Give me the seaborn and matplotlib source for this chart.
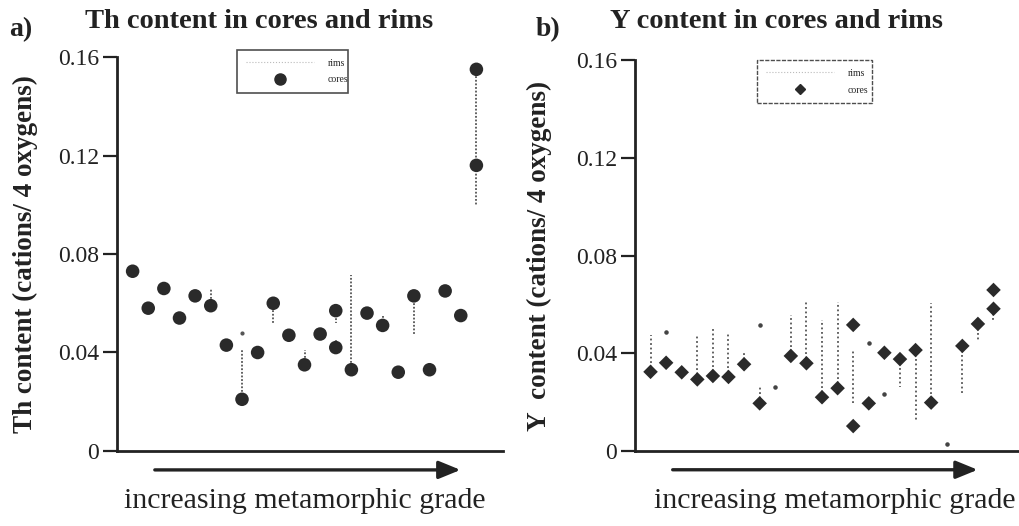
import numpy as np
import pandas as pd
import matplotlib
matplotlib.use("Agg")
import matplotlib.pyplot as plt
from matplotlib.lines import Line2D
import seaborn as sns

# ---------------- data ----------------
# Panel a: Th content (cations / 4 oxygens); x = sample order (increasing grade)
th_core_x = [1, 2, 3, 4, 5, 6, 7, 8, 9, 10, 11, 12, 13, 14, 14, 15, 16, 17, 18, 19, 20, 21, 22, 23, 23]
th_core_y = [0.073, 0.058, 0.066, 0.054, 0.063, 0.059, 0.043, 0.021, 0.040, 0.060, 0.047, 0.035,
             0.0475, 0.057, 0.042, 0.033, 0.056, 0.051, 0.032, 0.063, 0.033, 0.065, 0.055, 0.155, 0.116]
# rim segments: sample, core value, rim value
th_rim_x = [6, 8, 10, 12, 14, 14, 15, 17, 19, 23]
th_rim_from = [0.059, 0.021, 0.060, 0.035, 0.057, 0.042, 0.033, 0.051, 0.063, 0.155]
th_rim_to = [0.066, 0.041, 0.052, 0.041, 0.052, 0.045, 0.0715, 0.055, 0.047, 0.100]
th_dot_x = [8]
th_dot_y = [0.048]

# Panel b: Y content (cations / 4 oxygens)
y_core_x = [1, 2, 3, 4, 5, 6, 7, 8, 10, 11, 12, 13, 14, 14, 15, 16, 17, 18, 19, 21, 22, 23, 23]
y_core_y = [0.0324, 0.0361, 0.0322, 0.0293, 0.0307, 0.0303, 0.0355, 0.0195, 0.0389, 0.0359,
            0.022, 0.0257, 0.0516, 0.0102, 0.0195, 0.0402, 0.0376, 0.0413, 0.0198, 0.043,
            0.052, 0.0659, 0.0582]
y_rim_x = [1, 4, 5, 6, 7, 8, 10, 11, 12, 13, 14, 17, 18, 19, 21, 22, 23]
y_rim_from = [0.0324, 0.0293, 0.0307, 0.0303, 0.0355, 0.0195, 0.0389, 0.0359, 0.022, 0.0257,
              0.0196, 0.0376, 0.0413, 0.0198, 0.043, 0.052, 0.0582]
y_rim_to = [0.0475, 0.0475, 0.0503, 0.0483, 0.0405, 0.027, 0.0556, 0.0611, 0.0536, 0.0611,
            0.041, 0.0263, 0.0127, 0.0604, 0.023, 0.0447, 0.053]
y_dot_x = [2, 8, 9, 15, 16, 20]
y_dot_y = [0.0488, 0.0516, 0.0263, 0.0443, 0.0233, 0.003]

y_ticks = [0, 0.04, 0.08, 0.12, 0.16]
y_tick_labels = ["0", "0.04", "0.08", "0.12", "0.16"]

# ---------------- style ----------------
sns.set_theme(style="white")
plt.rcParams["font.family"] = ["Liberation Serif", "DejaVu Serif"]

INK = "#222222"
fig = plt.figure(figsize=(10.2, 5.26), dpi=100)
fig.patch.set_facecolor("white")

ax_a = fig.add_axes([0.1147, 0.1426, 0.3784, 0.749])
ax_b = fig.add_axes([0.6225, 0.1426, 0.3775, 0.7433])


def style_axis(ax, ylabel, label_x):
    ax.set_facecolor("white")
    ax.set_xlim(0, 24.7)
    ax.set_ylim(0, 0.16)
    for s in ["top", "right"]:
        ax.spines[s].set_visible(False)
    for s in ["left", "bottom"]:
        ax.spines[s].set_linewidth(2.0)
        ax.spines[s].set_color(INK)
    ax.set_xticks([])
    ax.set_yticks(y_ticks)
    ax.set_yticklabels(y_tick_labels)
    ax.tick_params(axis="y", direction="out", length=10, width=1.6, color=INK,
                   labelsize=17, labelcolor=INK, pad=3, left=True)
    ax.set_xlabel("")
    ax.set_ylabel(ylabel, fontsize=19.5, fontweight="bold", color=INK)
    ax.yaxis.set_label_coords(label_x, 0.5)
    ax.annotate("", xy=(0.89, -0.048), xytext=(0.098, -0.048), xycoords="axes fraction",
                arrowprops=dict(arrowstyle="-|>,head_length=1.1,head_width=0.45",
                                lw=2.4, color=INK, shrinkA=0, shrinkB=0),
                annotation_clip=False)


# panel a
style_axis(ax_a, "Th content (cations/ 4 oxygens)", -0.205)
ax_a.vlines(th_rim_x, th_rim_from, th_rim_to, colors="#555555", linestyles=(0, (1, 1)), lw=1.3)
ax_a.scatter(th_dot_x, th_dot_y, s=4, color="#555555", zorder=3)
sns.scatterplot(x=th_core_x, y=th_core_y, ax=ax_a, marker="o", s=95, color="#2a2a2a",
                edgecolor="none", linewidth=0, zorder=4, legend=False, clip_on=False)
ax_a.text(0.487, -0.127, "increasing metamorphic grade", transform=ax_a.transAxes,
          ha="center", va="center", fontsize=21.5, color=INK)
h_a = [Line2D([], [], color="#bbbbbb", ls=":", lw=0.8),
       Line2D([], [], color="#2a2a2a", ls="none", marker="o", markersize=8)]
leg = ax_a.legend(h_a, ["rims", "cores"], loc="upper left",
                  bbox_to_anchor=(0.311, 0.896, 0.287, 0.122), mode="expand",
                  borderaxespad=0, fontsize=7, frameon=True, fancybox=False,
                  handlelength=7, handletextpad=1.4, labelspacing=0.8, borderpad=0.9)
leg.get_frame().set_edgecolor(INK)
leg.get_frame().set_linewidth(1.2)

# panel b
style_axis(ax_b, "Y  content (cations/ 4 oxygens)", -0.216)
ax_b.vlines(y_rim_x, y_rim_from, y_rim_to, colors="#555555", linestyles=(0, (1, 1.5)), lw=1.3)
ax_b.scatter(y_dot_x, y_dot_y, s=5, color="#444444", zorder=3)
sns.scatterplot(x=y_core_x, y=y_core_y, ax=ax_b, marker="D", s=55, color="#2a2a2a",
                edgecolor="none", linewidth=0, zorder=4, legend=False, clip_on=False)
ax_b.text(0.52, -0.127, "increasing metamorphic grade", transform=ax_b.transAxes,
          ha="center", va="center", fontsize=21.5, color=INK)
h_b = [Line2D([], [], color="#bbbbbb", ls=":", lw=0.8),
       Line2D([], [], color="#2a2a2a", ls="none", marker="D", markersize=5.5)]
leg = ax_b.legend(h_b, ["rims", "cores"], loc="upper left",
                  bbox_to_anchor=(0.317, 0.875, 0.299, 0.125), mode="expand",
                  borderaxespad=0, fontsize=7, frameon=True, fancybox=False,
                  handlelength=7, handletextpad=1.4, labelspacing=0.8, borderpad=0.9)
leg.get_frame().set_edgecolor(INK)
leg.get_frame().set_linewidth(1.0)
leg.get_frame().set_linestyle((0, (3, 1)))

# titles and panel letters
fig.text(259 / 1020, 1 - 22 / 526, "Th content in cores and rims", ha="center", va="center",
         fontsize=20.5, fontweight="bold", color=INK)
fig.text(777 / 1020, 1 - 22 / 526, "Y content in cores and rims", ha="center", va="center",
         fontsize=20.5, fontweight="bold", color=INK)
fig.text(21 / 1020, 1 - 30 / 526, "a)", ha="center", va="center",
         fontsize=20, fontweight="bold", color=INK)
fig.text(548 / 1020, 1 - 30 / 526, "b)", ha="center", va="center",
         fontsize=20, fontweight="bold", color=INK)

fig.savefig("out.png", dpi=100, facecolor="white")
